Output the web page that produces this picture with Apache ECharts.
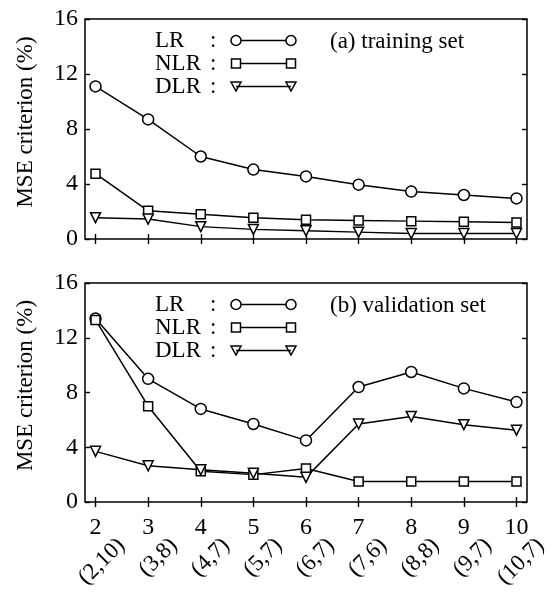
<!DOCTYPE html>
<html>
<head>
<meta charset="utf-8">
<script src="https://cdn.jsdelivr.net/npm/echarts@6/dist/echarts.min.js"></script>
<style>
    html, body { margin: 0; padding: 0; background: #fff; }
    #chart { width: 551px; height: 603px; }
</style>
</head>
<body>
<div id="chart"></div>
<script>
// x positions and the (m,n) pair under each one
var xs = [2, 3, 4, 5, 6, 7, 8, 9, 10];
var pairs = ['(2,10)', '(3,8)', '(4,7)', '(5,7)', '(6,7)', '(7,6)', '(8,8)', '(9,7)', '(10,7)'];

// (a) training set
var trainLR = [11.1, 8.7, 6.0, 5.05, 4.55, 3.95, 3.45, 3.2, 2.95];
var trainNLR = [4.75, 2.05, 1.8, 1.55, 1.4, 1.35, 1.3, 1.25, 1.2];
var trainDLR = [1.55, 1.45, 0.9, 0.7, 0.6, 0.5, 0.4, 0.4, 0.4];

// (b) validation set
var validLR = [13.4, 9.0, 6.8, 5.7, 4.5, 8.4, 9.5, 8.3, 7.3];
var validNLR = [13.3, 7.0, 2.25, 2.0, 2.45, 1.5, 1.5, 1.5, 1.5];
var validDLR = [3.7, 2.65, 2.35, 2.1, 1.8, 5.7, 6.25, 5.65, 5.25];

var font = 'Liberation Serif';
var names = ['LR', 'NLR', 'DLR'];
var symbols = ['circle', 'rect', 'triangle'];
var symbolSizes = [11, 9, 10];
var rotates = [0, 0, 180];
// legend icons: marker - line - marker
var icons = [
    'path://M0,5 A5,5 0 1,1 10,5 A5,5 0 1,1 0,5 Z M10,5 L55,5 M55,5 A5,5 0 1,1 65,5 A5,5 0 1,1 55,5 Z',
    'path://M0.5,0.5 L9.5,0.5 L9.5,9.5 L0.5,9.5 Z M9.5,5 L55.5,5 M55.5,0.5 L64.5,0.5 L64.5,9.5 L55.5,9.5 Z M0,0 M65,10',
    'path://M0,0.5 L10,0.5 L5,9.5 Z M5,5 L60,5 M55,0.5 L65,0.5 L60,9.5 Z M0,0 M65,10'
];

function pts(arr) {
    return arr.map(function (v, i) { return [xs[i], v]; });
}

var series = [];
[[trainLR, trainNLR, trainDLR], [validLR, validNLR, validDLR]].forEach(function (group, g) {
    group.forEach(function (arr, k) {
        series.push({
            name: names[k],
            type: 'line',
            xAxisIndex: g === 0 ? 0 : 2,
            yAxisIndex: g === 0 ? 0 : 2,
            symbol: symbols[k],
            symbolSize: symbolSizes[k],
            symbolRotate: rotates[k],
            lineStyle: { color: '#000', width: 1.5 },
            itemStyle: { color: '#fff', borderColor: '#000', borderWidth: 1.5 },
            emphasis: { disabled: true },
            data: pts(arr)
        });
    });
});

var grids = [
    { left: 85, right: 24, top: 19, height: 220, show: true },
    { left: 85, right: 24, top: 283, height: 219, show: true },
    // same width as grid 1, moved right: only holds the rotated (m,n) labels
    { left: 111, right: -2, top: 283, height: 219, show: false }
];

function xAx(gi, pos, opts) {
    var a = {
        type: 'value', gridIndex: gi, position: pos, min: 1.8, max: 10.2,
        axisLine: { show: false },
        axisTick: { show: true, inside: true, length: 5, customValues: xs, lineStyle: { color: '#000', width: 1.4 } },
        axisLabel: { show: false },
        splitLine: { show: false }
    };
    return Object.assign(a, opts || {});
}

function yAx(gi, pos, showLabel) {
    return {
        type: 'value', gridIndex: gi, position: pos, min: 0, max: 16, interval: 4,
        name: showLabel ? 'MSE criterion (%)' : '',
        nameLocation: 'middle', nameGap: 48,
        nameTextStyle: { fontFamily: font, fontSize: 23, color: '#000', padding: [0, 0, 0, 14] },
        axisLine: { show: false },
        axisTick: { show: true, inside: true, length: 5, lineStyle: { color: '#000', width: 1.4 } },
        axisLabel: { show: showLabel, margin: 7, fontFamily: font, fontSize: 24, color: '#000' },
        splitLine: { show: false }
    };
}

var legends = [24, 288].map(function (top) {
    return {
        orient: 'vertical', left: 150, top: top, align: 'right',
        itemWidth: 65, itemHeight: 10, itemGap: 0,
        selectedMode: false,
        data: names.map(function (n, k) { return { name: n, icon: icons[k] }; }),
        itemStyle: { color: '#fff', borderColor: '#000', borderWidth: 1.5 },
        formatter: function (n) { return '{n|' + n + '}{c|:}'; },
        textStyle: {
            fontFamily: font, fontSize: 23, color: '#000', lineHeight: 22,
            rich: {
                n: { fontFamily: font, fontSize: 23, width: 55, align: 'left' },
                c: { fontFamily: font, fontSize: 23, width: 16, align: 'left' }
            }
        }
    };
});

var titleStyle = { fontFamily: font, fontSize: 23, fontWeight: 'normal', color: '#000' };

var option = {
    backgroundColor: '#fff',
    animation: false,
    title: [
        { text: '(a) training set', left: 325, top: 25, textStyle: titleStyle },
        { text: '(b) validation set', left: 325, top: 289, textStyle: titleStyle }
    ],
    legend: legends,
    grid: grids.map(function (g) {
        return Object.assign({ borderColor: '#000', borderWidth: 1.5, backgroundColor: 'transparent' }, g);
    }),
    xAxis: [
        xAx(0, 'bottom'),
        xAx(0, 'top'),
        xAx(1, 'bottom', {
            axisLabel: { show: true, margin: 14, customValues: xs, fontFamily: font, fontSize: 24, color: '#000' }
        }),
        xAx(1, 'top'),
        xAx(2, 'bottom', {
            axisTick: { show: false },
            axisLabel: {
                show: true, margin: 40, rotate: 45, customValues: xs,
                fontFamily: font, fontSize: 23, color: '#000',
                formatter: function (v) { return pairs[xs.indexOf(v)]; }
            }
        })
    ],
    yAxis: [
        yAx(0, 'left', true), yAx(0, 'right', false),
        yAx(1, 'left', true), yAx(1, 'right', false),
        { type: 'value', gridIndex: 2, show: false, min: 0, max: 16 }
    ],
    series: series
};

var chart = echarts.init(document.getElementById('chart'));
chart.setOption(option);
</script>
</body>
</html>
